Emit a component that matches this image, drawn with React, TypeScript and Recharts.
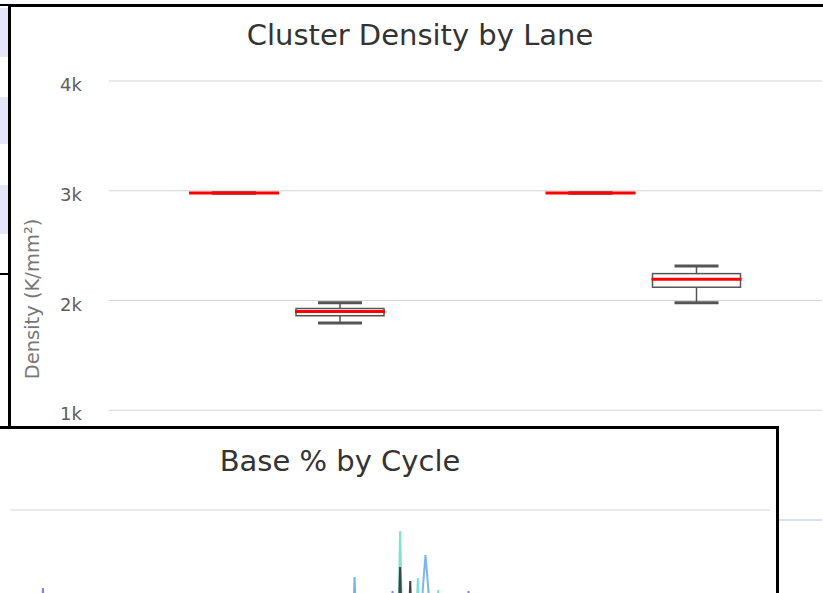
import { ComposedChart, Bar, XAxis, YAxis, CartesianGrid, LineChart, Line } from "recharts";

// Cluster density per lane, [min, q1, median, q3, max]
const LANES = ["1", "2"];
const RAW_DENSITY = [
  [2980, 2980, 2980, 2980, 2980],
  [2980, 2980, 2980, 2980, 2980],
];
const PF_DENSITY = [
  [1794, 1861, 1900, 1927, 1979],
  [1979, 2121, 2194, 2245, 2315],
];
const DENSITY_TICKS = [0, 1000, 2000, 3000, 4000];

// Base % by cycle (only the part above the fold is visible)
const BLUE_CYCLES = [1, 135, 136, 137, 138, 139, 162, 163, 164, 165, 166, 167, 168, 301];
const BLUE_VALUES = [27, 30, 36, 43.3, 37, 30, 31, 37, 42.3, 45.5, 42.5, 39, 31, 27];
const TEAL_CYCLES = [1, 153, 154, 155, 156, 157, 160, 161, 162, 163, 164, 168, 169, 170, 171, 172, 301];
const TEAL_VALUES = [26, 30, 36, 47.9, 36, 30, 30, 37, 43.2, 37, 30, 30, 36, 42.0, 36, 30, 26];
const BLACK_CYCLES = [1, 153, 154, 155, 156, 157, 158, 159, 160, 161, 301];
const BLACK_VALUES = [25, 29, 35, 44.3, 35, 30, 36, 42.9, 35, 29, 25];
const PURPLE_CYCLES = [1, 12, 13, 14, 15, 16, 150, 151, 152, 153, 154, 180, 181, 182, 183, 184, 301];
const PURPLE_VALUES = [24, 28, 36, 42.2, 36, 28, 28, 36, 41.9, 36, 28, 28, 36, 41.9, 36, 28, 24];
const BASE_TICKS = [0, 10, 20, 30, 40, 50];

const densityData = LANES.map((lane, i) => ({
  lane,
  raw: RAW_DENSITY[i],
  rawMax: RAW_DENSITY[i][4],
  pf: PF_DENSITY[i],
  pfMax: PF_DENSITY[i][4],
}));

const toPoints = (cycles: number[], values: number[]) =>
  cycles.map((c, i) => ({ cycle: c, pct: values[i] }));

const BASE_SERIES = [
  { name: "A", color: "#7fe0d4", data: toPoints(TEAL_CYCLES, TEAL_VALUES) },
  { name: "C", color: "#7cb5ec", data: toPoints(BLUE_CYCLES, BLUE_VALUES) },
  { name: "G", color: "#8085e9", data: toPoints(PURPLE_CYCLES, PURPLE_VALUES) },
  { name: "T", color: "#434348", data: toPoints(BLACK_CYCLES, BLACK_VALUES) },
];

// bar spans 0..max, so map stats back onto the same pixel range
function BoxShape(props: any) {
  const { x, y, width, height, payload, statsKey } = props;
  const s: number[] = payload[statsKey];
  const max = s[4];
  const py = (v: number) => y + (height * (max - v)) / max;
  const cx = x + width / 2;
  const capW = width / 2;
  const boxH = py(s[1]) - py(s[3]);
  return (
    <g>
      <line x1={cx} x2={cx} y1={py(s[4])} y2={py(s[0])} stroke="#555" strokeWidth={1.5} />
      <line x1={cx - capW / 2} x2={cx + capW / 2} y1={py(s[4])} y2={py(s[4])} stroke="#555" strokeWidth={3} />
      <line x1={cx - capW / 2} x2={cx + capW / 2} y1={py(s[0])} y2={py(s[0])} stroke="#555" strokeWidth={3} />
      {boxH > 1 && (
        <rect x={x} y={py(s[3])} width={width} height={boxH} fill="#fff" stroke="#555" strokeWidth={1.5} />
      )}
      <line x1={x - 1} x2={x + width + 1} y1={py(s[2])} y2={py(s[2])} stroke="#ff0000" strokeWidth={3} />
    </g>
  );
}

function DensityTick(props: any) {
  const { x, y, payload } = props;
  const v = payload.value;
  if (v === 0) return null;
  return (
    <text x={x} y={y} dy={10} textAnchor="end" fill="#5e5e5e" fontSize={18}>
      {`${v / 1000}k`}
    </text>
  );
}

export default function App() {
  return (
    <div
      style={{
        position: "absolute",
        left: 0,
        top: 0,
        width: 823,
        height: 593,
        overflow: "hidden",
        background: "#fff",
        fontFamily: "'DejaVu Sans', sans-serif",
      }}
    >
      {/* table panel peeking out on the left */}
      <div
        style={{
          position: "absolute",
          left: 0,
          top: 4,
          width: 10,
          height: 271,
          borderTop: "2px solid #000",
          borderBottom: "2px solid #000",
          boxSizing: "border-box",
        }}
      >
        <div style={{ position: "absolute", left: 0, top: 2, width: 10, height: 49, background: "#e6e6fa" }} />
        <div style={{ position: "absolute", left: 0, top: 91, width: 10, height: 47, background: "#e6e6fa" }} />
        <div style={{ position: "absolute", left: 0, top: 179, width: 10, height: 49, background: "#e6e6fa" }} />
      </div>

      {/* Cluster density window */}
      <div
        style={{
          position: "absolute",
          left: 8,
          top: 4,
          width: 840,
          height: 620,
          border: "3px solid #000",
          boxSizing: "border-box",
          background: "#fff",
          overflow: "hidden",
        }}
      >
        <div
          style={{
            position: "absolute",
            left: 209,
            top: 14,
            width: 400,
            textAlign: "center",
            fontSize: 29,
            lineHeight: "29px",
            color: "#333",
            whiteSpace: "nowrap",
          }}
        >
          Cluster Density by Lane
        </div>
        <div
          style={{
            position: "absolute",
            left: 22 - 110,
            top: 292 - 11,
            width: 220,
            height: 22,
            lineHeight: "22px",
            textAlign: "center",
            fontSize: 19.5,
            color: "#777",
            transform: "rotate(-90deg)",
            whiteSpace: "nowrap",
          }}
        >
          Density (K/mm²)
        </div>
        <div style={{ position: "absolute", left: 0, top: 0 }}>
          <ComposedChart
            width={830}
            height={560}
            data={densityData}
            margin={{ top: 74, right: 19, bottom: 17, left: 0 }}
            barGap={18}
          >
            <CartesianGrid vertical={false} stroke="#d4d4d4" />
            <XAxis
              dataKey="lane"
              axisLine={{ stroke: "#ccd6eb" }}
              tickLine={false}
              tick={{ fill: "#666", fontSize: 14 }}
              height={30}
            />
            <YAxis
              domain={[0, 4000]}
              ticks={DENSITY_TICKS}
              axisLine={false}
              tickLine={false}
              tickSize={0}
              tickMargin={27}
              width={98}
              tick={<DensityTick />}
            />
            <Bar
              dataKey="rawMax"
              barSize={88}
              isAnimationActive={false}
              shape={(p: any) => <BoxShape {...p} statsKey="raw" />}
            />
            <Bar
              dataKey="pfMax"
              barSize={88}
              isAnimationActive={false}
              shape={(p: any) => <BoxShape {...p} statsKey="pf" />}
            />
          </ComposedChart>
        </div>
      </div>

      {/* Base % window on top */}
      <div
        style={{
          position: "absolute",
          left: -3,
          top: 426,
          width: 782,
          height: 200,
          border: "3px solid #000",
          boxSizing: "border-box",
          background: "#fff",
          overflow: "hidden",
        }}
      >
        <div
          style={{
            position: "absolute",
            left: 140,
            top: 18,
            width: 400,
            textAlign: "center",
            fontSize: 29,
            lineHeight: "29px",
            color: "#333",
            whiteSpace: "nowrap",
          }}
        >
          Base % by Cycle
        </div>
        <div style={{ position: "absolute", left: 0, top: 0 }}>
          <LineChart width={776} height={600} margin={{ top: 81, right: 6, bottom: 19, left: 10 }}>
            <CartesianGrid vertical={false} stroke="#d4d4d4" />
            <XAxis type="number" dataKey="cycle" domain={[1, 301]} hide />
            <YAxis type="number" domain={[0, 50]} ticks={BASE_TICKS} hide />
            {BASE_SERIES.map((s) => (
              <Line
                key={s.name}
                data={s.data}
                dataKey="pct"
                stroke={s.color}
                strokeWidth={2}
                dot={false}
                type="linear"
                isAnimationActive={false}
              />
            ))}
          </LineChart>
        </div>
      </div>
    </div>
  );
}
